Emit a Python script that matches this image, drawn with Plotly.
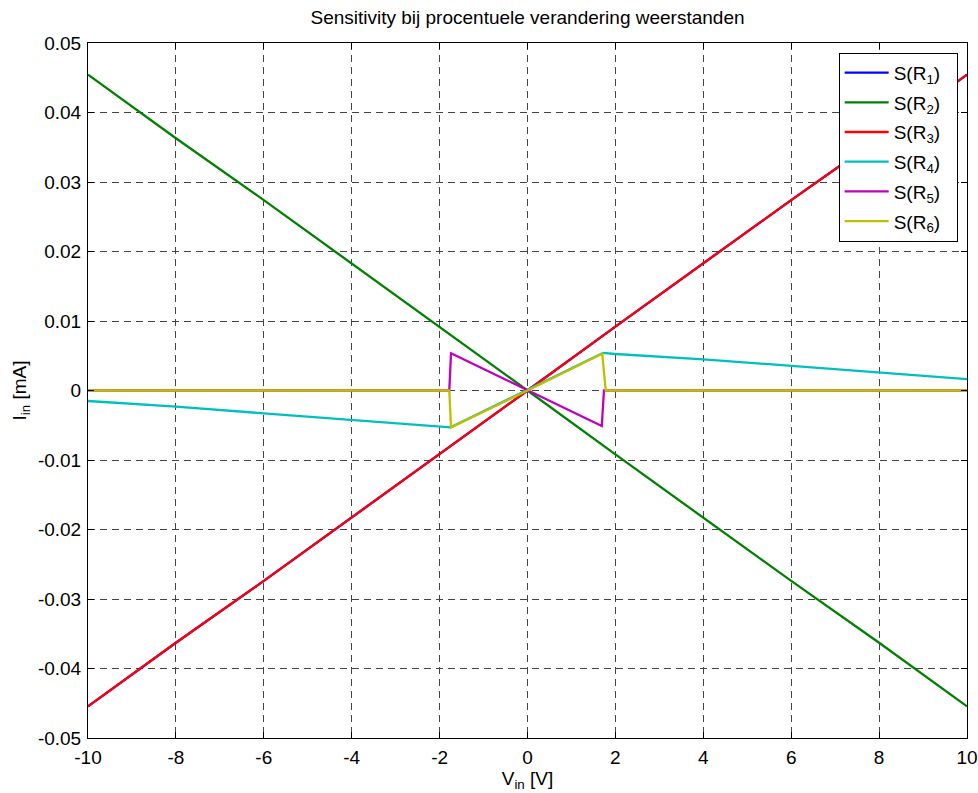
import plotly.graph_objects as go

# ---- data ----
v_lin = [-10, -8, -6, -4, -2, 0, 2, 4, 6, 8, 10]
s_R2 = [0.04544, 0.0363, 0.0274, 0.0183, 0.0092, 0.0, -0.0092, -0.0183, -0.0274, -0.0363, -0.04544]
s_R3 = [-0.04544, -0.0363, -0.0274, -0.0183, -0.0092, 0.0, 0.0092, 0.0183, 0.0274, 0.0363, 0.04544]
s_R1 = list(s_R3)

v_R4 = [-10, -8, -6, -4, -2, -1.75, 1.72, 2, 4, 6, 8, 10]
s_R4 = [-0.00151, -0.00233, -0.00329, -0.00424, -0.00511, -0.0053, 0.0054, 0.00525, 0.00449, 0.00357, 0.00262, 0.00165]

v_R5 = [-10, -1.78, -1.74, 0, 1.69, 1.74, 10]
s_R5 = [0.0, 0.0, 0.00535, 0.0, -0.00511, 0.0, 0.0]

v_R6 = [-10, -1.78, -1.74, 0, 1.70, 1.78, 10]
s_R6 = [0.0, 0.0, -0.0053, 0.0, 0.0053, 0.0, 0.0]

names = ["S(R<sub>1</sub>)", "S(R<sub>2</sub>)", "S(R<sub>3</sub>)",
         "S(R<sub>4</sub>)", "S(R<sub>5</sub>)", "S(R<sub>6</sub>)"]
colors = ["#0000ff", "#008000", "#ff0000", "#00bfbf", "#bf00bf", "#bfbf00"]

x_tickvals = [-10, -8, -6, -4, -2, 0, 2, 4, 6, 8, 10]
x_ticktext = ["-10", "-8", "-6", "-4", "-2", "0", "2", "4", "6", "8", "10"]
y_tickvals = [0.05, 0.04, 0.03, 0.02, 0.01, 0, -0.01, -0.02, -0.03, -0.04, -0.05]
y_ticktext = ["0.05", "0.04", "0.03", "0.02", "0.01", "0", "-0.01", "-0.02", "-0.03", "-0.04", "-0.05"]

series = [(v_lin, s_R1), (v_lin, s_R2), (v_lin, s_R3), (v_R4, s_R4), (v_R5, s_R5), (v_R6, s_R6)]

FONT = "Liberation Sans, Arial, Helvetica, sans-serif"
FS = 19

fig = go.Figure()
for i, ((xs, ys), nm, col) in enumerate(zip(series, names, colors)):
    fig.add_trace(go.Scatter(x=xs, y=ys, mode="lines", name=nm + "\u00a0\u00a0",
                             legendgroup=f"g{i}",
                             line=dict(color=col, width=2.3)))

axis_common = dict(
    showline=True, linecolor="black", linewidth=1, mirror="ticks",
    ticks="inside", ticklen=6, tickcolor="black", tickwidth=1,
    showgrid=True, gridcolor="#444444", gridwidth=1, griddash="7px,5px",
    zeroline=False, tickfont=dict(family=FONT, size=FS, color="black"),
)

fig.update_xaxes(range=[-10, 10], tickvals=x_tickvals, ticktext=x_ticktext,
                 title=dict(text="V<sub>in</sub> [V]", font=dict(family=FONT, size=FS, color="black"), standoff=3),
                 ticklabelstandoff=2, **axis_common)
fig.update_yaxes(range=[-0.05, 0.05], tickvals=y_tickvals, ticktext=y_ticktext,
                 title=dict(text="I<sub>in</sub> [mA]", font=dict(family=FONT, size=FS, color="black"), standoff=6),
                 ticklabelstandoff=2, **axis_common)

fig.update_layout(
    width=978, height=793,
    margin=dict(l=88, r=11, t=43, b=55, autoexpand=False),
    paper_bgcolor="white", plot_bgcolor="white",
    title=dict(text="Sensitivity bij procentuele verandering weerstanden",
               x=(88 + 967) / 2 / 978, xanchor="center", y=1 - 17 / 793, yanchor="middle",
               font=dict(family=FONT, size=FS, color="black")),
    font=dict(family=FONT, size=FS, color="black"),
    showlegend=True,
    legend=dict(x=0.854, y=0.986, xanchor="left", yanchor="top",
                bgcolor="white", bordercolor="black", borderwidth=1,
                tracegroupgap=2, font=dict(family=FONT, size=FS, color="black"),
                itemwidth=44),
)

fig.write_html("out.html")
